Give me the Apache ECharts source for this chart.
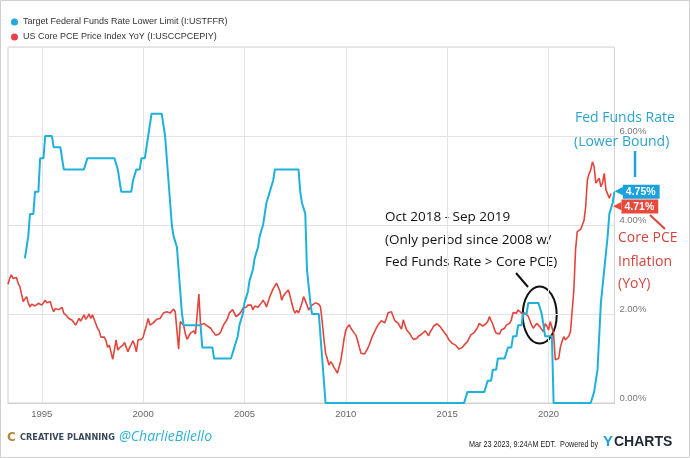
<!DOCTYPE html>
<html>
<head>
<meta charset="utf-8">
<script src="https://cdn.jsdelivr.net/npm/echarts@6/dist/echarts.min.js"></script>
<style>
html,body{margin:0;padding:0;background:#fff;}
#chart{width:690px;height:458px;}
</style>
</head>
<body>
<div id="chart"></div>
<script>
// ---------- DATA ----------
const fedName = 'Target Federal Funds Rate Lower Limit (I:USTFFR)';
const pceName = 'US Core PCE Price Index YoY (I:USCCPCEPIY)';
const firstYear = 1993, firstMonth = 4;       // first category: Apr 1993 (month-end values)
const fedLeadingGap = 10;                     // fed series starts Feb 1994
const xTickYears = [1995, 2000, 2005, 2010, 2015, 2020];
const yTickLabels = ['0.00%', '2.00%', '4.00%', '6.00%'];

// Core PCE YoY, monthly, Apr 1993 - Jan 2023
const pce1990s = [
  2.67,2.80,2.88,2.80,2.84,2.82,2.69,2.62,2.58,
  2.28,2.34,2.39,2.25,2.16,2.22,2.26,2.18,2.20,2.24,2.26,2.20,
  2.24,2.31,2.25,2.26,2.28,2.15,2.05,2.12,2.16,2.10,2.13,2.15,
  2.02,1.98,1.95,1.90,1.87,1.86,1.84,1.75,1.82,1.90,1.84,1.87,
  1.98,1.88,1.93,2.00,1.90,1.98,1.88,1.78,1.68,1.62,1.48,1.50,
  1.48,1.40,1.25,1.30,1.27,0.98,1.20,1.42,1.19,1.24,1.25,1.30,
  1.36,1.25,1.15,1.25,1.32,1.40,1.30,1.15,1.42,1.40,1.43,1.48
];
const pce2000s = [
  1.62,1.75,1.90,1.75,1.78,1.80,1.83,1.88,1.85,1.90,1.92,2.02,
  2.00,2.05,2.03,2.02,2.06,2.11,2.05,2.03,1.21,1.83,1.83,1.75,
  1.55,1.43,1.50,1.57,1.60,1.62,1.55,1.53,2.45,1.75,1.78,1.79,
  1.76,1.73,1.72,1.68,1.62,1.57,1.52,1.48,1.55,1.60,1.70,1.78,
  1.83,1.90,2.02,2.05,2.10,2.02,1.94,1.90,2.00,2.05,2.13,2.10,
  2.15,2.20,2.24,2.20,2.09,2.18,2.15,2.15,2.20,2.25,2.31,2.25,
  2.16,2.15,2.39,2.48,2.57,2.60,2.69,2.60,2.51,2.31,2.40,2.46,
  2.50,2.54,2.40,2.24,2.10,2.02,2.08,2.02,2.13,2.24,2.39,2.30,
  2.20,2.09,2.15,2.20,2.22,2.25,2.28,2.22,2.16,1.83,1.45,1.12,
  1.00,0.85,0.93,0.88,0.80,0.74,0.67,0.63,0.95,1.19,1.45,1.64
];
const pce2010s = [
  1.71,1.76,1.68,1.64,1.57,1.52,1.40,1.25,1.12,1.14,1.10,1.12,
  1.23,1.32,1.43,1.52,1.60,1.68,1.75,1.80,1.85,1.82,1.80,1.90,
  2.03,2.00,2.05,2.03,1.85,1.82,1.79,1.72,1.66,1.87,1.75,1.64,
  1.60,1.55,1.48,1.43,1.42,1.45,1.50,1.53,1.55,1.58,1.62,1.66,
  1.51,1.60,1.66,1.73,1.76,1.78,1.75,1.71,1.65,1.60,1.57,1.50,
  1.42,1.38,1.34,1.33,1.30,1.28,1.21,1.19,1.25,1.30,1.34,1.38,
  1.42,1.53,1.50,1.58,1.64,1.70,1.79,1.75,1.73,1.71,1.78,1.83,
  1.94,1.85,1.77,1.65,1.57,1.53,1.55,1.64,1.62,1.68,1.75,1.72,
  1.79,1.87,2.03,2.05,2.02,2.09,2.09,2.02,1.98,2.02,2.05,1.95,
  1.85,1.75,1.68,1.72,1.79,1.75,1.71,1.65,1.60,1.78,1.73,1.64
];
const pce2020s = [
  1.83,1.80,1.57,0.97,0.98,1.00,1.25,1.38,1.49,1.42,1.45,1.50,
  1.60,1.62,2.54,3.44,3.85,3.89,3.90,3.93,4.10,4.41,5.01,5.15,
  5.24,5.42,5.31,4.94,5.00,5.05,4.86,4.95,5.16,4.79,4.75,4.60,
  4.71
];

// Fed funds target (lower limit), monthly, Feb 1994 - Mar 2023
const fed1990s = [
  3.25,3.5,3.75,4.25,4.25,4.25,4.75,4.75,4.75,5.5,5.5,
  5.5,6.0,6.0,6.0,6.0,6.0,5.75,5.75,5.75,5.75,5.75,5.5,
  5.25,5.25,5.25,5.25,5.25,5.25,5.25,5.25,5.25,5.25,5.25,5.25,
  5.25,5.25,5.5,5.5,5.5,5.5,5.5,5.5,5.5,5.5,5.5,5.5,
  5.5,5.5,5.5,5.5,5.5,5.5,5.5,5.5,5.25,5.0,4.75,4.75,
  4.75,4.75,4.75,4.75,4.75,5.0,5.0,5.25,5.25,5.25,5.5,5.5
];
const fed2000s = [
  5.5,5.75,6.0,6.0,6.5,6.5,6.5,6.5,6.5,6.5,6.5,6.5,
  6.0,5.5,5.0,4.5,4.0,3.75,3.75,3.5,3.0,2.5,2.0,1.75,
  1.75,1.75,1.75,1.75,1.75,1.75,1.75,1.75,1.75,1.75,1.25,1.25,
  1.25,1.25,1.25,1.25,1.25,1.0,1.0,1.0,1.0,1.0,1.0,1.0,
  1.0,1.0,1.0,1.0,1.0,1.25,1.25,1.5,1.75,1.75,2.0,2.25,
  2.25,2.5,2.75,2.75,3.0,3.25,3.25,3.5,3.75,3.75,4.0,4.25,
  4.5,4.5,4.75,4.75,5.0,5.25,5.25,5.25,5.25,5.25,5.25,5.25,
  5.25,5.25,5.25,5.25,5.25,5.25,5.25,5.25,4.75,4.5,4.5,4.25,
  3.0,3.0,2.25,2.0,2.0,2.0,2.0,2.0,2.0,1.0,1.0,0,
  0,0,0,0,0,0,0,0,0,0,0,0
];
const fed2010s = [
  0,0,0,0,0,0,0,0,0,0,0,0,
  0,0,0,0,0,0,0,0,0,0,0,0,
  0,0,0,0,0,0,0,0,0,0,0,0,
  0,0,0,0,0,0,0,0,0,0,0,0,
  0,0,0,0,0,0,0,0,0,0,0,0,
  0,0,0,0,0,0,0,0,0,0,0,0.25,
  0.25,0.25,0.25,0.25,0.25,0.25,0.25,0.25,0.25,0.25,0.25,0.5,
  0.5,0.5,0.75,0.75,0.75,1.0,1.0,1.0,1.0,1.0,1.0,1.25,
  1.25,1.25,1.5,1.5,1.5,1.75,1.75,1.75,2.0,2.0,2.0,2.25,
  2.25,2.25,2.25,2.25,2.25,2.25,2.25,2.0,1.75,1.5,1.5,1.5
];
const fed2020s = [
  1.5,1.5,0,0,0,0,0,0,0,0,0,0,
  0,0,0,0,0,0,0,0,0,0,0,0,
  0,0,0.25,0.25,0.75,1.5,2.25,2.25,3.0,3.0,3.75,4.25,
  4.25,4.5,4.75
];

// ---------- BUILD ----------
const pceData = [].concat(pce1990s, pce2000s, pce2010s, pce2020s);
const fedValues = [].concat(fed1990s, fed2000s, fed2010s, fed2020s);
const fedData = new Array(fedLeadingGap).fill(null).concat(fedValues);
const months = [];
for (let i = 0; i < fedData.length; i++) {
  const k = firstMonth - 1 + i;
  const y = firstYear + Math.floor(k / 12);
  const m = (k % 12) + 1;
  months.push(y + '-' + (m < 10 ? '0' : '') + m);
}
// month-end December of (tickYear-1) sits on the tickYear boundary
const isYearTick = (idx, val) => val.slice(5) === '12' && xTickYears.indexOf(+val.slice(0, 4) + 1) >= 0;

const blueLine = '#1fb1d9', redLine = '#e0463d';
const blueBadge = '#1aa1e0', redBadge = '#e8493b';
const hand = "'Open Sans', 'Noto Sans', sans-serif";
const sans = "'Liberation Sans', Arial, sans-serif";

const chart = echarts.init(document.getElementById('chart'), null, {renderer: 'canvas'});
chart.setOption({
  animation: false,
  backgroundColor: '#fff',
  grid: {left: 8, right: 75.6, top: 47, bottom: 55, containLabel: false, outerBoundsMode: 'none',
         show: true, borderColor: '#d2d2d2', borderWidth: 1},
  legend: {
    left: 6, top: 11, orient: 'vertical', icon: 'circle', itemWidth: 7, itemHeight: 7, itemGap: 3,
    selectedMode: false,
    textStyle: {fontSize: 9, color: '#333', fontFamily: sans, lineHeight: 12},
    data: [{name: fedName, itemStyle: {color: '#23a9da'}}, {name: pceName, itemStyle: {color: '#e8404b'}}]
  },
  xAxis: {
    type: 'category', data: months, boundaryGap: false,
    axisLine: {show: true, lineStyle: {color: '#cfcfcf'}},
    axisTick: {show: false},
    axisLabel: {interval: isYearTick, formatter: v => String(+v.slice(0, 4) + 1), color: '#666',
                fontSize: 9.5, fontFamily: sans, margin: 6},
    splitLine: {show: true, interval: isYearTick, lineStyle: {color: '#e3e3e3', width: 1}}
  },
  yAxis: {
    type: 'value', position: 'right', min: 0, max: 8, interval: 2,
    axisLine: {show: false}, axisTick: {show: false},
    axisLabel: {formatter: v => yTickLabels[v / 2] || '', color: '#777', fontSize: 9.5, fontFamily: sans,
                margin: 5, verticalAlign: 'bottom'},
    splitLine: {lineStyle: {color: '#e3e3e3', width: 1}}
  },
  series: [
    {
      name: pceName, type: 'line', data: pceData, showSymbol: false, symbol: 'none',
      lineStyle: {color: redLine, width: 1.6}, itemStyle: {color: redLine}, z: 3,
      endLabel: {
        show: true, distance: 2, offset: [0, 13],
        formatter: p => '{a|◀}{b|' + p.value.toFixed(2) + '%}',
        rich: {
          a: {color: redBadge, fontSize: 11, fontFamily: 'DejaVu Sans'},
          b: {backgroundColor: redBadge, color: '#fff', fontWeight: 'bold', fontSize: 10.5,
              fontFamily: sans, padding: [2, 4, 1, 3]}
        }
      }
    },
    {
      name: fedName, type: 'line', data: fedData, showSymbol: false, symbol: 'none',
      lineStyle: {color: blueLine, width: 2}, itemStyle: {color: blueLine}, z: 4,
      endLabel: {
        show: true, distance: 0,
        formatter: p => '{a|◀}{b|' + p.value.toFixed(2) + '%}',
        rich: {
          a: {color: blueBadge, fontSize: 11, fontFamily: 'DejaVu Sans'},
          b: {backgroundColor: blueBadge, color: '#fff', fontWeight: 'bold', fontSize: 10.5,
              fontFamily: sans, padding: [2, 4, 1, 3]}
        }
      }
    }
  ],
  graphic: [
    {type: 'rect', shape: {x: 0.5, y: 0.5, width: 689, height: 457}, style: {fill: 'none', stroke: '#cfcfcf', lineWidth: 1}, silent: true},
    // Fed funds annotation
    {type: 'text', x: 575, y: 118, style: {text: 'Fed Funds Rate', fill: '#2aa5cb', font: "14px " + hand, verticalAlign: 'middle'}},
    {type: 'text', x: 574, y: 142, style: {text: '(Lower Bound)', fill: '#2aa5cb', font: "14px " + hand, verticalAlign: 'middle'}},
    {type: 'line', shape: {x1: 635, y1: 151, x2: 635, y2: 177}, style: {stroke: '#1ea4d6', lineWidth: 2.5}},
    // Core PCE annotation
    {type: 'line', shape: {x1: 650, y1: 215, x2: 665, y2: 229}, style: {stroke: '#d9453c', lineWidth: 2}},
    {type: 'text', x: 618, y: 238, style: {text: 'Core PCE', fill: '#d4463d', font: "14px " + hand, verticalAlign: 'middle'}},
    {type: 'text', x: 618, y: 262, style: {text: 'Inflation', fill: '#d4463d', font: "14px " + hand, verticalAlign: 'middle'}},
    {type: 'text', x: 618, y: 284, style: {text: '(YoY)', fill: '#d4463d', font: "14px " + hand, verticalAlign: 'middle'}},
    // Period annotation
    {type: 'text', x: 385, y: 217, style: {text: 'Oct 2018 - Sep 2019', fill: '#111', font: "13.5px " + hand, verticalAlign: 'middle'}},
    {type: 'text', x: 385, y: 240, style: {text: '(Only period since 2008 w/', fill: '#111', font: "13.5px " + hand, verticalAlign: 'middle'}},
    {type: 'text', x: 385, y: 262, style: {text: 'Fed Funds Rate > Core PCE)', fill: '#111', font: "13.5px " + hand, verticalAlign: 'middle'}},
    {type: 'line', shape: {x1: 516, y1: 273, x2: 528, y2: 287}, style: {stroke: '#111', lineWidth: 2}},
    {type: 'ellipse', shape: {cx: 539.7, cy: 315, rx: 17, ry: 28.5}, style: {fill: 'none', stroke: '#111', lineWidth: 2}},
    // Footer
    {type: 'text', x: 7, y: 438, style: {text: 'C', fill: '#b08a3e', font: "bold 12px 'DejaVu Sans'", verticalAlign: 'middle'}},
    {type: 'text', x: 20, y: 438, style: {text: 'CREATIVE PLANNING', fill: '#3b4a5a', font: "bold 8.2px 'DejaVu Sans'", verticalAlign: 'middle'}},
    {type: 'text', x: 119, y: 437, style: {text: '@CharlieBilello', fill: '#2fb1d0', font: "italic 14px " + hand, verticalAlign: 'middle'}},
    {type: 'text', x: 469, y: 444, scaleX: 0.76, style: {text: 'Mar 23 2023, 9:24AM EDT.  Powered by', fill: '#222', font: "9.5px " + sans, verticalAlign: 'middle'}},
    {type: 'text', x: 603, y: 442, style: {text: 'Y', fill: '#1a9fe0', font: "bold 15px " + sans, verticalAlign: 'middle'}},
    {type: 'text', x: 614, y: 442, style: {text: 'CHARTS', fill: '#1f2a37', font: "bold 14px " + sans, verticalAlign: 'middle'}}
  ]
});
</script>
</body>
</html>
